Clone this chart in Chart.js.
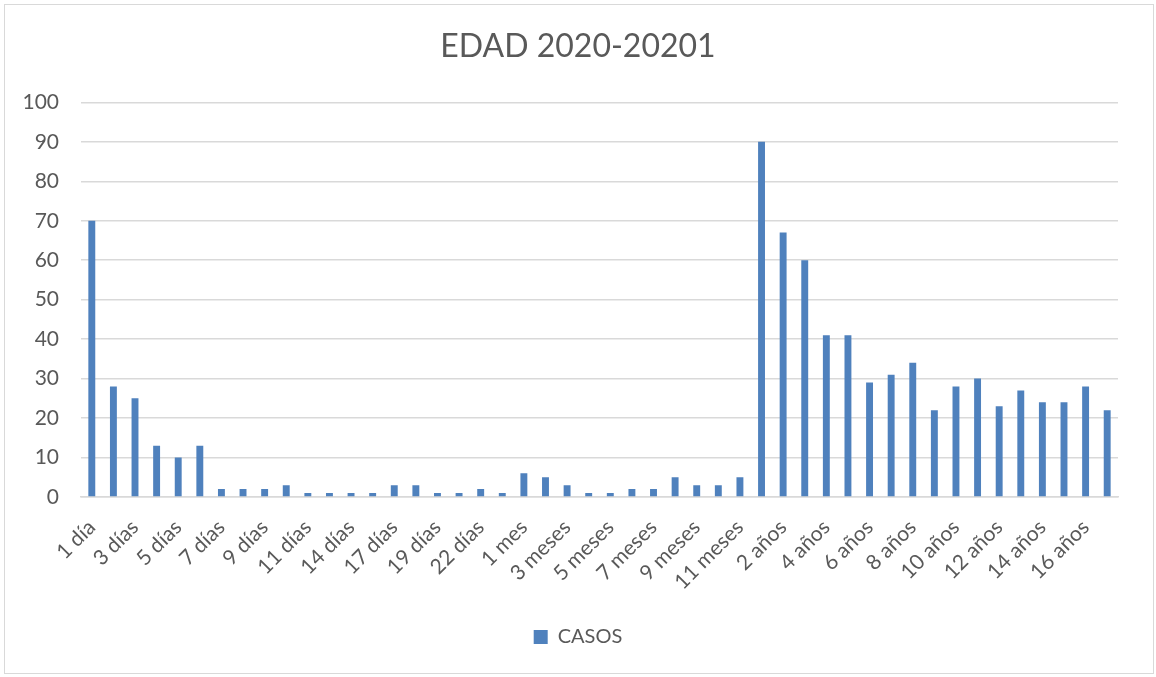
<!DOCTYPE html>
<html>
<head>
<meta charset="utf-8">
<script src="https://cdn.jsdelivr.net/npm/chart.js@4.4.1/dist/chart.umd.min.js"></script>
<style>
  html, body { margin: 0; padding: 0; background: #fff; }
  #frame { position: absolute; left: 4px; top: 4px; width: 1150px; height: 670px; border: 1px solid #d9d9d9; box-sizing: border-box; }
  #wrap { position: absolute; left: 0; top: 0; width: 1156px; height: 677px; }
</style>
</head>
<body>
<div id="frame"></div>
<div id="wrap"><canvas id="edadChart"></canvas></div>
<script>
// age groups (only every other one gets a label on the axis)
const edades = [
  '1 día', '2 días', '3 días', '4 días', '5 días', '6 días', '7 días', '8 días',
  '9 días', '10 días', '11 días', '12 días', '14 días', '15 días', '17 días', '18 días',
  '19 días', '20 días', '22 días', '25 días', '1 mes', '2 meses', '3 meses', '4 meses',
  '5 meses', '6 meses', '7 meses', '8 meses', '9 meses', '10 meses', '11 meses', '1 año',
  '2 años', '3 años', '4 años', '5 años', '6 años', '7 años', '8 años', '9 años',
  '10 años', '11 años', '12 años', '13 años', '14 años', '15 años', '16 años', '17 años'
];
const casos = [
  70, 28, 25, 13, 10, 13, 2, 2,
  2, 3, 1, 1, 1, 1, 3, 3,
  1, 1, 2, 1, 6, 5, 3, 1,
  1, 2, 2, 5, 3, 3, 5, 90,
  67, 60, 41, 41, 29, 31, 34, 22,
  28, 30, 23, 27, 24, 24, 28, 22
];
const yTicks = [0, 10, 20, 30, 40, 50, 60, 70, 80, 90, 100];

const FONT = 'Lato, "Open Sans", sans-serif';
const GRIS = '#595959';

new Chart(document.getElementById('edadChart'), {
  type: 'bar',
  data: {
    labels: edades,
    datasets: [{
      label: 'CASOS',
      data: casos,
      backgroundColor: '#4f81bd',
      barPercentage: 0.32,
      categoryPercentage: 1
    }]
  },
  options: {
    responsive: true,
    maintainAspectRatio: false,
    animation: false,
    layout: { padding: { left: 0, right: 0, top: 0, bottom: 20 } },
    plugins: {
      title: {
        display: true,
        text: 'EDAD 2020-20201',
        color: GRIS,
        font: { family: FONT, size: 32, weight: 'normal' },
        padding: { top: 27, bottom: 37 }
      },
      legend: {
        position: 'bottom',
        labels: {
          color: GRIS,
          font: { family: FONT, size: 20 },
          boxWidth: 14,
          boxHeight: 14,
          padding: 10
        }
      },
      tooltip: { enabled: false }
    },
    scales: {
      x: {
        grid: { display: false },
        border: { display: true, color: '#d9d9d9', width: 1.5 },
        ticks: {
          color: GRIS,
          font: { family: FONT, size: 21 },
          autoSkip: false,
          minRotation: 45,
          maxRotation: 45,
          padding: 10,
          callback: function (v, i) { return i % 2 === 0 ? edades[i] : ''; }
        },
        afterFit: function (scale) { scale.height = 120; }
      },
      y: {
        min: 0,
        max: 100,
        afterBuildTicks: function (scale) { scale.ticks = yTicks.map(v => ({ value: v })); },
        grid: { color: '#d9d9d9', lineWidth: 1.5, drawTicks: false },
        border: { display: false },
        ticks: {
          color: GRIS,
          font: { family: FONT, size: 21 },
          padding: 22
        },
        afterFit: function (scale) { scale.width = 81; }
      },
      // empty right margin so the title and legend stay centred on the canvas
      margen: {
        type: 'linear',
        position: 'right',
        grid: { display: false },
        border: { display: false },
        ticks: { display: false },
        afterFit: function (scale) { scale.width = 38; }
      }
    }
  }
});
</script>
</body>
</html>
